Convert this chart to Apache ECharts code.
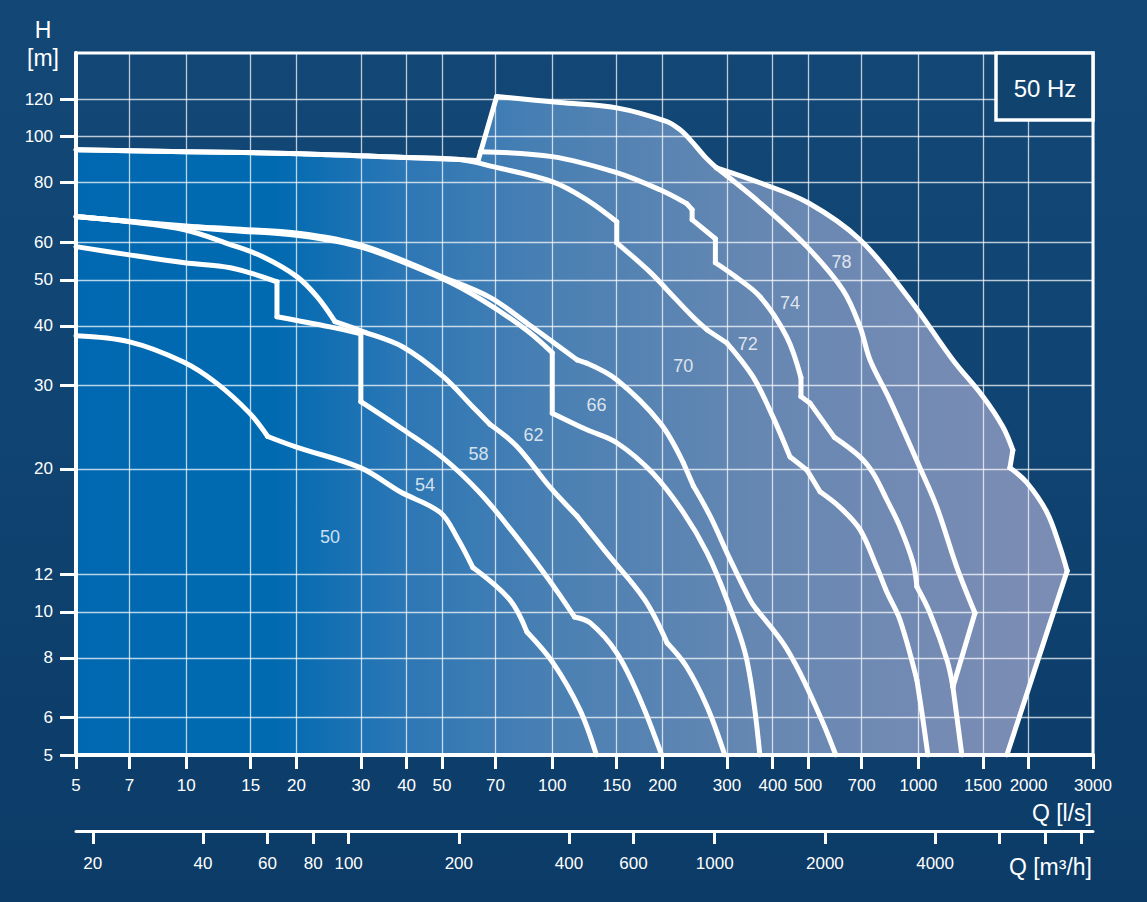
<!DOCTYPE html>
<html>
<head>
<meta charset="utf-8">
<script src="https://cdn.jsdelivr.net/npm/echarts@6/dist/echarts.min.js"></script>
<style>
html,body{margin:0;padding:0;width:1147px;height:902px;overflow:hidden;
background:linear-gradient(180deg,#134776 0%,#104472 45%,#0c3b67 100%);}
#c{width:1147px;height:902px;}
</style>
</head>
<body>
<div id="c"></div>
<script>
// ---------- tick values ----------
const qTicks = [5,7,10,15,20,30,40,50,70,100,150,200,300,400,500,700,1000,1500,2000,3000]; // l/s
const hTicks = [5,6,8,10,12,20,30,40,50,60,80,100,120]; // m
const qm3Ticks = [20,40,60,80,100,200,400,600,1000,2000,4000,6000,8000,10000]; // m3/h
const qm3Labels = [20,40,60,80,100,200,400,600,1000,2000,4000];

// ---------- curves: lists of segments (split at kinks), points [Q l/s, H m] ----------
const curve50 = [
  [[5,38.1],[7,37.0],[9.8,33.6],[12.1,30.3],[14.9,26.2],[16.7,23.4]],
  [[16.7,23.4],[20.1,22.2],[30,20.1],[38.4,17.9],[49.4,16.2],[54.8,14.4],[60.7,12.4]],
  [[60.7,12.4],[76.6,10.6],[85.3,9.07]],
  [[85.3,9.07],[100.5,7.81],[119,6.22],[132,5]]
];
const curve54 = [
  [[5,58.7],[7,56.4],[9.9,54.3],[13.2,53.0],[17.7,49.5]],
  [[17.7,49.5],[17.7,41.8]],
  [[17.7,41.8],[24.7,39.8],[30,38.5]],
  [[30,38.5],[30,27.7]],
  [[30,27.7],[39.1,24.2],[50.3,21.1],[63.5,17.8],[78.1,14.7],[96.7,11.85],[107,10.6],[115,9.76]],
  [[115,9.76],[127,9.48],[150,8.2],[174,6.53],[199,5]]
];
const curve58 = [
  [[5,67.9],[7,66.2],[9.9,63.7],[13.2,59.3],[16.2,55.9],[20.1,50.7],[22.8,46.0],[25.5,40.8]],
  [[25.5,40.8],[30.4,38.9],[39.1,36.1],[50.3,31.3],[60.7,27.0],[67.6,24.8]],
  [[67.6,24.8],[80.1,22.3],[98.6,18.3],[117,15.9]],
  [[117,15.9],[141,13.3],[179,10.6],[206,8.6]],
  [[206,8.6],[233,7.66],[265,6.31],[296,5]]
];
const curve62 = [
  [[5,67.9],[7,66.3],[10,64.6],[13.2,63.5],[20.5,61.9],[30.4,58.4],[50.3,50.2],[64.7,45.2],[85.3,39.1],[100,35.1]],
  [[100,35.1],[100,26.2]],
  [[100,26.2],[124,24.2],[150,22.7],[188,19.6],[228,16.2],[265,13.3],[300,10.6],[340,7.92],[369,5]]
];
const curve66 = [
  [[5,67.9],[7,66.4],[10,64.9],[13.2,64.0],[20.5,62.6],[30.4,59.0],[50.3,50.6],[67.6,45.9],[85.3,40.5],[117,33.9]],
  [[117,33.9],[124,33.4]],
  [[124,33.4],[150,30.8],[197,25.0],[228,20.6]],
  [[228,20.6],[243,18.4]],
  [[243,18.4],[270,15.9],[306,12.9],[347,10.6],[362,10.1]],
  [[362,10.1],[427,8.6],[475,7.44],[549,5.84],[595,5]]
];
const curve70 = [
  [[5,93.9],[10,93.0],[20.5,92.1],[38.4,90.5],[56,89.5],[68.9,86.5],[100,80.4],[124,73.7],[150,66.2]],
  [[150,66.2],[150,59.8]],
  [[150,59.8],[185,51.9],[206,47.6],[242,41.8],[265,39.2]],
  [[265,39.2],[300,36.8]],
  [[300,36.8],[353,31.3],[401,25.7],[446,21.2]],
  [[446,21.2],[496,19.9]],
  [[496,19.9],[539,17.9]],
  [[539,17.9],[611,16.6],[693,14.9],[771,12.4],[821,11.0],[891,9.62],[991,7.19]],
  [[991,7.19],[1023,6.13],[1062,5]]
];
const curve72 = [
  [[63.6,93.0],[100,90.8],[150,84.0],[197,77.3],[233,72.3]],
  [[233,72.3],[241,70.2]],
  [[241,70.2],[241,66.9]],
  [[241,66.9],[279,61.0]],
  [[279,61.0],[279,54.3]],
  [[279,54.3],[306,51.7],[369,46.1],[437,37.9],[478,31.1]],
  [[478,31.1],[478,28.4]],
  [[478,28.4],[506,27.5]],
  [[506,27.5],[590,23.3]],
  [[590,23.3],[693,21.2],[752,19.6],[821,17.2],[891,15.1],[967,12.7],[991,11.3]],
  [[991,11.3],[1076,9.95],[1197,7.92],[1243,6.95]],
  [[1243,6.95],[1315,5]]
];
const curve74 = [
  [[281,86.0],[369,72.6],[496,58.7],[622,47.6],[693,39.8],[738,33.9],[836,27.9],[1010,20.1],[1124,16.6],[1275,12.4],[1428,9.95]],
  [[1428,9.95],[1243,6.95]]
];
const envelope = [
  [[5,93.9],[10,93.0],[20.5,92.1],[38.4,90.5],[56,89.5],[62.7,89.0]],
  [[62.7,89.0],[70.5,121.5]],
  [[70.5,121.5],[105,118],[150,115],[205,107.7],[223,103.5],[238,98.6],[261,90.8],[281,86.0]],
  [[281,86.0],[369,80.0],[500,72.6],[693,60.7],[949,45.4],[1243,33.9],[1501,28.4],[1703,24.5],[1812,21.9]],
  [[1812,21.9],[1779,20.1]],
  [[1779,20.1],[1980,18.7],[2246,16.2],[2437,13.7],[2550,12.2]],
  [[2550,12.2],[1745,5]]
];

// ---------- region labels [Q, H, text] ----------
const regionLabels = [[24.7,14.35,'50'],[44.9,18.5,'54'],[62.9,21.5,'58'],[88.9,23.6,'62'],[132,27.3,'66'],[228,33.0,'70'],[342,36.6,'72'],[446,44.6,'74'],[617,54.4,'78']];

// ---------- build ----------
const L = Math.log10;
const toXY = arr => arr.map(p => [L(p[0]), L(p[1])]);
const flatten = segs => segs.reduce((acc, s, i) => acc.concat(i === 0 ? s : s.slice(1)), []);
const fmt = v => String(Math.round(Math.pow(10, v)));
const FONT = 'Liberation Sans, Arial, Helvetica, sans-serif';
const WHITE = '#ffffff';
const GRIDC = 'rgba(255,255,255,0.72)';
const BG = '#10446f';

const chart = echarts.init(document.getElementById('c'), null, {renderer: 'svg', width: 1147, height: 902});

function curveSeries(name, segs) {
  return segs.map((seg, i) => ({
    name: name + '-' + i, type: 'line', data: toXY(seg), xAxisIndex: 0, yAxisIndex: 0,
    showSymbol: false, symbol: 'none', silent: true, z: 3,
    smooth: seg.length > 2 ? 0.35 : false,
    lineStyle: {color: WHITE, width: 5, join: 'round', cap: 'round'}
  }));
}

const curveSet = [['envelope', envelope], ['50', curve50], ['54', curve54], ['58', curve58], ['62', curve62],
                  ['66', curve66], ['70', curve70], ['72', curve72], ['74', curve74]];

const option = {
  animation: false,
  backgroundColor: 'transparent',
  textStyle: {fontFamily: FONT},
  grid: {left: 76, right: 54, top: 53, bottom: 147, show: true, borderColor: WHITE, borderWidth: 3,
         backgroundColor: 'transparent', containLabel: false, outerBoundsMode: 'none', z: 1},
  xAxis: [{
    type: 'value', min: L(5), max: L(3000), position: 'bottom', z: 1,
    axisLine: {show: true, onZero: false, lineStyle: {color: WHITE, width: 4}},
    axisTick: {show: true, customValues: qTicks.map(L), length: 14, lineStyle: {color: WHITE, width: 3}},
    axisLabel: {show: true, customValues: qTicks.map(L), formatter: fmt, color: WHITE, fontSize: 17, margin: 22, fontFamily: FONT, hideOverlap: false},
    splitLine: {show: true, lineStyle: {color: GRIDC, width: 1.3}}
  }, {
    type: 'value', min: L(18), max: L(10800), position: 'bottom', offset: 76, z: 1,
    axisLine: {show: true, onZero: false, lineStyle: {color: WHITE, width: 3}},
    axisTick: {show: true, customValues: qm3Ticks.map(L), length: 13, lineStyle: {color: WHITE, width: 3}},
    axisLabel: {show: true, customValues: qm3Labels.map(L), formatter: fmt, color: WHITE, fontSize: 17, margin: 24, fontFamily: FONT, hideOverlap: false},
    splitLine: {show: false}
  }],
  yAxis: {
    type: 'value', min: L(5), max: L(150), z: 1,
    axisLine: {show: true, onZero: false, lineStyle: {color: WHITE, width: 4}},
    axisTick: {show: true, customValues: hTicks.map(L), length: 16, lineStyle: {color: WHITE, width: 3}},
    axisLabel: {show: true, customValues: hTicks.map(L), formatter: fmt, color: WHITE, fontSize: 17, margin: 23, fontFamily: FONT, hideOverlap: false},
    splitLine: {show: true, lineStyle: {color: GRIDC, width: 1.3}}
  },
  series: [
    {
      name: 'range', type: 'line', data: toXY(flatten(envelope)), showSymbol: false, symbol: 'none', silent: true, z: 0,
      lineStyle: {width: 0, opacity: 0},
      areaStyle: {
        origin: 'start', opacity: 1,
        color: new echarts.graphic.LinearGradient(0, 0, 1, 0, [
          {offset: 0, color: '#0068b0'},
          {offset: 0.2, color: '#006ab1'},
          {offset: 0.33, color: '#2c77b5'},
          {offset: 0.48, color: '#4a80b3'},
          {offset: 0.68, color: '#6587b2'},
          {offset: 0.93, color: '#798cb4'},
          {offset: 1, color: '#7c8db4'}
        ])
      }
    }
  ].concat(...curveSet.map(c => curveSeries(c[0], c[1]))).concat([
    {
      name: 'labels', type: 'scatter', silent: true, z: 4, symbolSize: 0,
      data: regionLabels.map(r => [L(r[0]), L(r[1]), r[2]]),
      label: {show: true, position: 'inside', formatter: p => p.data[2], color: WHITE, fontSize: 18, fontFamily: FONT}
    }
  ]),
  graphic: [
    {type: 'text', x: 43, y: 30, z: 10, style: {text: 'H', fill: WHITE, font: '23px ' + FONT, textAlign: 'center', textVerticalAlign: 'middle'}},
    {type: 'text', x: 43, y: 58, z: 10, style: {text: '[m]', fill: WHITE, font: '23px ' + FONT, textAlign: 'center', textVerticalAlign: 'middle'}},
    {type: 'text', x: 1092, y: 813, z: 10, style: {text: 'Q [l/s]', fill: WHITE, font: '23px ' + FONT, textAlign: 'right', textVerticalAlign: 'middle'}},
    {type: 'text', x: 1092, y: 867, z: 10, style: {text: 'Q [m³/h]', fill: WHITE, font: '23px ' + FONT, textAlign: 'right', textVerticalAlign: 'middle'}},
    {type: 'rect', z: 10, shape: {x: 996, y: 53, width: 97, height: 67}, style: {fill: BG, stroke: WHITE, lineWidth: 3.5}},
    {type: 'text', x: 1045, y: 88, z: 11, style: {text: '50 Hz', fill: WHITE, font: '24px ' + FONT, textAlign: 'center', textVerticalAlign: 'middle'}}
  ]
};
chart.setOption(option);
</script>
</body>
</html>
